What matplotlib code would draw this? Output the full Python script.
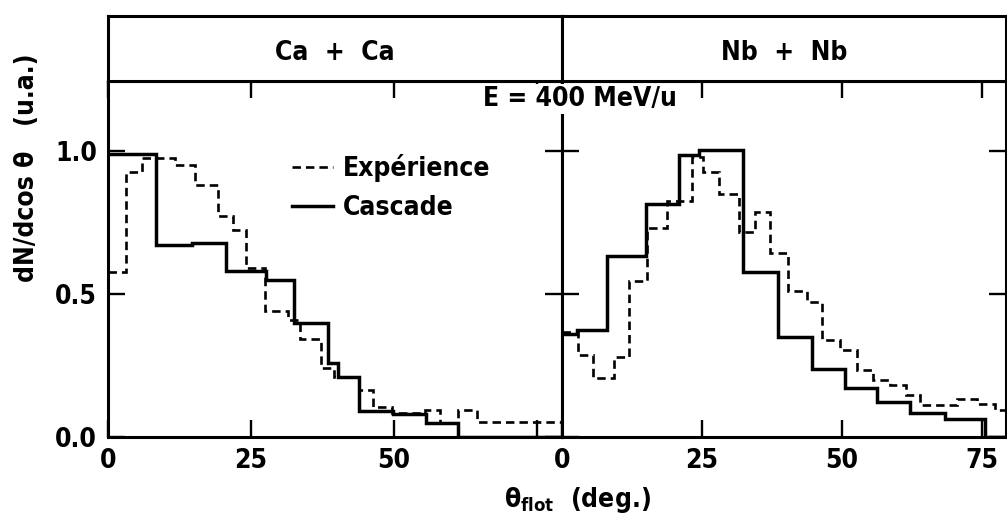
import matplotlib
matplotlib.use("Agg")
import matplotlib.pyplot as plt
from matplotlib import font_manager
from matplotlib.lines import Line2D

# ---- data: angular distributions of the flow angle ----
ca_cascade_edges = [0, 8.4, 14.7, 20.6, 27.6, 32.6, 38.5, 40.2, 43.9, 49.9, 55.7, 61.2, 79.4]
ca_cascade = [0.99, 0.67, 0.68, 0.58, 0.55, 0.40, 0.26, 0.21, 0.09, 0.08, 0.048, 0.0]

ca_exp_edges = [0, 3.1, 5.9, 11.7, 15.2, 19.2, 21.8, 24.1, 27.5, 31.5, 33.6, 37.2,
                39.5, 43.9, 46.3, 49.7, 55.4, 58.0, 61.2, 64.5, 79.4]
ca_exp = [0.578, 0.927, 0.975, 0.951, 0.881, 0.773, 0.724, 0.59, 0.44, 0.41, 0.343,
          0.24, 0.21, 0.164, 0.106, 0.084, 0.094, 0.05, 0.094, 0.054]

nb_cascade_edges = [0, 2.6, 8.0, 15.0, 20.9, 24.5, 32.4, 38.6, 44.6, 50.6, 56.2, 62.1,
                    68.4, 75.5, 79.3]
nb_cascade = [0.361, 0.375, 0.633, 0.816, 0.987, 1.002, 0.577, 0.35, 0.239, 0.171,
              0.124, 0.084, 0.064, 0.0]

nb_exp_edges = [0, 2.9, 5.6, 9.2, 12.0, 15.1, 18.7, 23.3, 25.1, 28.0, 31.7, 34.5, 37.1,
                40.4, 43.7, 46.4, 49.6, 52.6, 55.6, 58.6, 61.5, 63.9, 70.5, 74.1, 77.3, 79.3]
nb_exp = [0.367, 0.286, 0.206, 0.28, 0.544, 0.731, 0.825, 0.979, 0.927, 0.851, 0.717,
          0.787, 0.643, 0.509, 0.472, 0.338, 0.303, 0.233, 0.198, 0.181, 0.146, 0.111,
          0.134, 0.116, 0.093]

panel_titles = ["Ca  +  Ca", "Nb  +  Nb"]
x_ticks = [0, 25, 50, 75]
left_xticklabels = ["0", "25", "50", ""]
right_xticklabels = ["0", "25", "50", "75"]
y_ticks = [0.0, 0.5, 1.0]
y_ticklabels = ["0.0", "0.5", "1.0"]
legend_labels = ["Expérience", "Cascade"]

# ---- fonts: prefer a narrow face ----
fonts = font_manager.fontManager.ttflist
names = {f.name for f in fonts}
has_condensed = any(f.name == "DejaVu Sans" and f.stretch in ("condensed", "semi-condensed", 87.5)
                    for f in fonts)
if "Liberation Sans Narrow" in names:
    plt.rcParams["font.family"] = ["Liberation Sans Narrow", "DejaVu Sans"]
else:
    plt.rcParams["font.family"] = ["DejaVu Sans"]
    if has_condensed:
        plt.rcParams["font.stretch"] = "condensed"
plt.rcParams["font.weight"] = "bold"
plt.rcParams["mathtext.fontset"] = "dejavusans"

FS = 19
LW_AX = 2.2

W, H = 1007, 520
fig = plt.figure(figsize=(W / 100, H / 100), dpi=100)


def frac(x0, y0, x1, y1):
    """pixel box (top-left origin) -> figure fraction rect"""
    return [x0 / W, 1 - y1 / H, (x1 - x0) / W, (y1 - y0) / H]


ax_l = fig.add_axes(frac(108, 81, 562, 437))
ax_r = fig.add_axes(frac(562, 81, 1006, 437))
band_l = fig.add_axes(frac(108, 16, 562, 81))
band_r = fig.add_axes(frac(562, 16, 1006, 81))

exp_style = dict(color="black", lw=1.9, linestyle=(0, (3.2, 1.9)))
cas_style = dict(color="black", lw=2.5)

ax_l.stairs(ca_exp, ca_exp_edges, baseline=None, **exp_style)
ax_l.stairs(ca_cascade, ca_cascade_edges, baseline=None, **cas_style)
ax_r.stairs(nb_exp, nb_exp_edges, baseline=None, **exp_style)
ax_r.stairs(nb_cascade, nb_cascade_edges, baseline=None, **cas_style)

for ax, xlim, xlabels in ((ax_l, 79.4, left_xticklabels), (ax_r, 79.3, right_xticklabels)):
    ax.set_xlim(0, xlim)
    ax.set_ylim(0, 1.245)
    ax.set_xticks(x_ticks)
    ax.set_xticklabels(xlabels, fontsize=FS)
    ax.set_yticks(y_ticks)
    ax.tick_params(direction="in", top=True, right=True, length=12, width=1.7,
                   pad=8, labelsize=FS)
    for s in ax.spines.values():
        s.set_linewidth(LW_AX)

ax_l.set_yticklabels(y_ticklabels, fontsize=FS)
ax_r.set_yticklabels([])
ax_r.tick_params(axis="y", left=True, right=True)

for band, title in zip((band_l, band_r), panel_titles):
    band.set_xticks([])
    band.set_yticks([])
    for s in band.spines.values():
        s.set_linewidth(LW_AX)
    band.text(0.5, 0.43, title, ha="center", va="center", fontsize=FS,
              transform=band.transAxes)

handles = [Line2D([], [], **exp_style), Line2D([], [], **cas_style)]
ax_l.legend(handles, legend_labels, loc="upper left", bbox_to_anchor=(0.405, 0.795),
            frameon=False, fontsize=FS, handlelength=1.55, handletextpad=0.4,
            labelspacing=0.5, borderpad=0, borderaxespad=0)

fig.text(580 / W, 1 - 99 / H, "E = 400 MeV/u", ha="center", va="center", fontsize=FS,
         bbox=dict(facecolor="white", edgecolor="none", pad=1.5), zorder=5)
fig.text(577 / W, 1 - 500 / H, r"$\mathbf{\theta}_{\mathbf{flot}}$  (deg.)",
         ha="center", va="center", fontsize=FS)
fig.text(27 / W, 1 - 168 / H, "dN/dcos θ   (u.a.)", ha="center", va="center",
         rotation=90, fontsize=FS)

fig.savefig("out.png", dpi=100)
